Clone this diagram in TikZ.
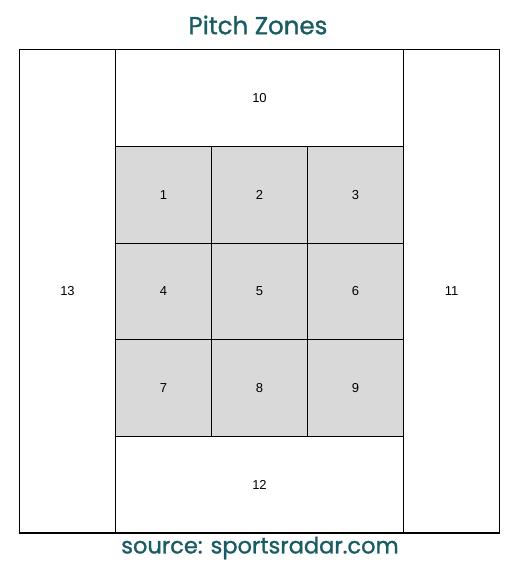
\documentclass[tikz,border=0pt]{standalone}
\usepackage{fontspec}
\setmainfont{Liberation Sans}
\newfontfamily\titlefont[FakeBold=1.2]{Poppins}
\definecolor{teal1}{RGB}{26,92,99}
\definecolor{cellgray}{RGB}{217,217,217}
\begin{document}
\begin{tikzpicture}[x=1pt,y=-1pt,
  zone/.style={draw=black,line width=1.1pt,rectangle,inner sep=0pt,font=\fontsize{13}{15}\selectfont},
  inzone/.style={zone,fill=cellgray,minimum width=96pt,minimum height=96.7pt},
  ttl/.style={text=teal1,inner sep=0pt}]
\useasboundingbox (0,0) rectangle (520,566);
% outer zones
\node[zone,minimum width=96pt,minimum height=483.5pt] (z13) at (67.5,291.25) {13};
\node[zone,minimum width=96pt,minimum height=483.5pt] (z11) at (451.5,291.25) {11};
\node[zone,minimum width=288pt,minimum height=96.7pt] (z10) at (259.5,98) {10};
\node[zone,minimum width=288pt,minimum height=96.7pt] (z12) at (259.5,484.6) {12};
% inner grid
\node[inzone] (z1) at (163.5,194.75) {1};
\node[inzone] (z2) at (259.5,194.75) {2};
\node[inzone] (z3) at (355.5,194.75) {3};
\node[inzone] (z4) at (163.5,291.4) {4};
\node[inzone] (z5) at (259.5,291.4) {5};
\node[inzone] (z6) at (355.5,291.4) {6};
\node[inzone] (z7) at (163.5,388) {7};
\node[inzone] (z8) at (259.5,388) {8};
\node[inzone] (z9) at (355.5,388) {9};
% titles
\node[ttl,font=\titlefont\fontsize{24.5}{28}\selectfont] (title) at (258,25) {Pitch Zones};
\node[ttl,font=\titlefont\fontsize{22.5}{26}\selectfont] (src) at (260,548) {source: sportsradar.com};
\end{tikzpicture}
\end{document}
